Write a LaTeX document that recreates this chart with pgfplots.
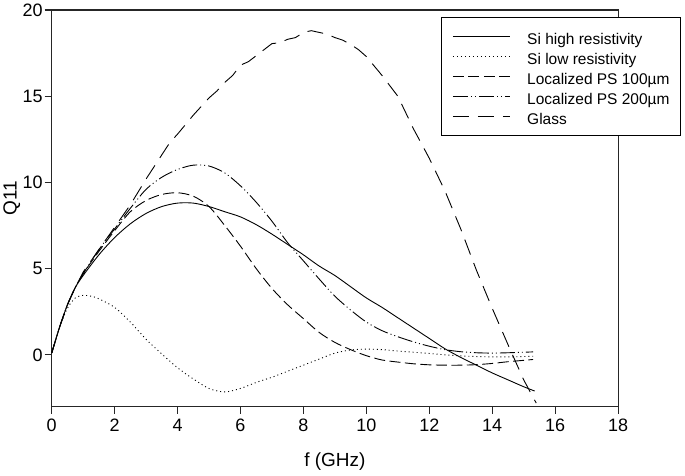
\documentclass[border=0pt]{standalone}
\usepackage{fontspec}
\setmainfont{Liberation Sans}
\usepackage{pgfplots}
\pgfplotsset{compat=1.18}

\begin{document}
\begin{tikzpicture}
\begin{axis}[
    scale only axis,
    width=567pt, height=397pt,
    xmin=0, xmax=18, ymin=-3, ymax=20,
    xtick={0,2,...,18}, ytick={0,5,...,20},
    tick align=outside, tick pos=left,
    major tick length=7pt,
    axis line style={line width=1.1pt, black!85},
    every tick/.style={line width=1.1pt, black!85},
    /pgf/number format/assume math mode=true,
    tick label style={font=\fontsize{18}{21}\selectfont},
    xticklabel style={inner sep=0pt, yshift=-5pt},
    yticklabel style={inner sep=0pt, xshift=-2pt},
    xlabel={f (GHz)}, ylabel={Q11},
    label style={font=\fontsize{19}{22}\selectfont},
    xlabel style={at={(rel axis cs:0.5,-0.151)}, anchor=base},
    ylabel style={at={(rel axis cs:-0.062,0.526)}, anchor=base},
    legend style={at={(rel axis cs:1.111,0.982)}, anchor=north east,
        draw=black, line width=0.8pt,
        font=\fontsize{15.5}{18}\selectfont,
        inner xsep=11pt, inner ysep=11pt, row sep=4pt, column sep=17pt,
        nodes={inner sep=0pt, text height=16pt, text depth=0pt}},
    legend cell align=left,
    legend image code/.code={\draw[#1, line width=0.9pt] (0pt,0pt) -- (57pt,0pt);},
    every axis plot/.append style={line width=0.9pt, black},
]
% Si high resistivity
\addplot[solid, smooth] coordinates {
(0,0.1) (0.25,1.6) (0.5,2.9) (0.75,3.9) (1,4.6) (1.5,5.8) (2,6.8) (2.5,7.6)
(3,8.2) (3.5,8.6) (4,8.8) (4.5,8.8) (5,8.6) (5.5,8.3) (6,8.0) (6.5,7.55)
(7,7.0) (7.5,6.4) (8,5.8) (8.5,5.15) (9,4.6) (9.5,3.95) (10,3.3) (10.5,2.75)
(11,2.15) (11.5,1.55) (12,0.95) (12.5,0.35) (13,-0.15) (13.5,-0.6) (14,-1.05)
(14.5,-1.45) (15,-1.85) (15.35,-2.1)};
% Si low resistivity
\addplot[dash pattern=on 1pt off 3pt, smooth] coordinates {
(0,0.1) (0.25,1.6) (0.5,2.7) (0.75,3.3) (1,3.45) (1.25,3.4) (1.5,3.25) (2,2.75)
(2.5,1.9) (3,0.9) (3.5,0.05) (4,-0.75) (4.5,-1.4) (5,-1.95) (5.5,-2.15)
(6,-1.95) (6.5,-1.6) (7,-1.3) (7.5,-0.95) (8,-0.6) (8.5,-0.25) (9,0.1)
(9.5,0.28) (10,0.33) (10.5,0.3) (11,0.22) (11.5,0.15) (12,0.08) (12.5,0.0)
(13,-0.06) (13.5,-0.1) (14,-0.12) (14.5,-0.12) (15,-0.1) (15.3,-0.08)};
% Localized PS 100um
\addplot[dash pattern=on 11pt off 4.5pt, smooth] coordinates {
(0,0.1) (0.25,1.6) (0.5,2.9) (0.75,3.9) (1,4.7) (1.5,6.0) (2,7.2) (2.5,8.3)
(3,8.95) (3.5,9.3) (4,9.4) (4.5,9.2) (5,8.6) (5.5,7.5) (6,6.3) (6.5,5.0)
(7,3.85) (7.5,2.9) (8,2.1) (8.5,1.3) (9,0.72) (9.5,0.3) (10,-0.05) (10.5,-0.3)
(11,-0.42) (11.5,-0.52) (12,-0.58) (12.5,-0.6) (13,-0.6) (13.5,-0.57)
(14,-0.5) (14.5,-0.4) (15,-0.32) (15.3,-0.27)};
% Localized PS 200um
\addplot[dash pattern=on 15pt off 3pt on 1pt off 3pt on 1pt off 3pt, smooth] coordinates {
(0,0.1) (0.25,1.6) (0.5,2.9) (0.75,3.9) (1,4.7) (1.5,6.1) (2,7.3) (2.5,8.5)
(3,9.6) (3.5,10.3) (4,10.75) (4.5,11.0) (5,10.95) (5.5,10.55) (6,9.8)
(6.5,8.85) (7,7.75) (7.5,6.5) (8,5.45) (8.5,4.4) (9,3.4) (9.5,2.6) (10,1.9)
(10.5,1.4) (11,1.05) (11.5,0.75) (12,0.5) (12.5,0.3) (13,0.18) (13.5,0.12)
(14,0.1) (14.5,0.12) (15,0.15) (15.3,0.17)};
% Glass
\addplot[dash pattern=on 16pt off 9pt] coordinates {
(0,0.1) (0.25,1.6) (0.5,2.9) (0.75,3.9) (1,4.8) (1.5,6.1) (2,7.4) (2.5,8.7)
(3,10.2) (3.5,11.6) (3.75,12.3) (4,12.8) (4.5,13.9) (5,14.9) (5.25,15.3)
(5.5,15.8) (5.75,16.2) (6,16.8) (6.25,17.0) (6.5,17.35) (6.75,17.7) (7,18.05)
(7.25,18.1) (7.5,18.3) (7.75,18.4) (8,18.7) (8.25,18.8) (8.5,18.7) (8.75,18.6)
(9,18.4) (9.25,18.25) (9.5,18.0) (9.75,17.7) (10,17.3) (10.5,16.2) (11,15.0)
(11.5,13.1) (12,11.4) (12.5,9.5) (13,7.3) (13.5,4.9) (14,2.7) (14.5,0.6)
(15,-1.45) (15.4,-2.8)};
\legend{Si high resistivity, Si low resistivity, Localized PS 100µm,
        Localized PS 200µm, Glass}
\coordinate (bl) at (rel axis cs:-0.0899,-0.1738);
\coordinate (tr) at (rel axis cs:1.1182,1.0252);
\end{axis}
\path (bl) (tr);
\end{tikzpicture}
\end{document}
